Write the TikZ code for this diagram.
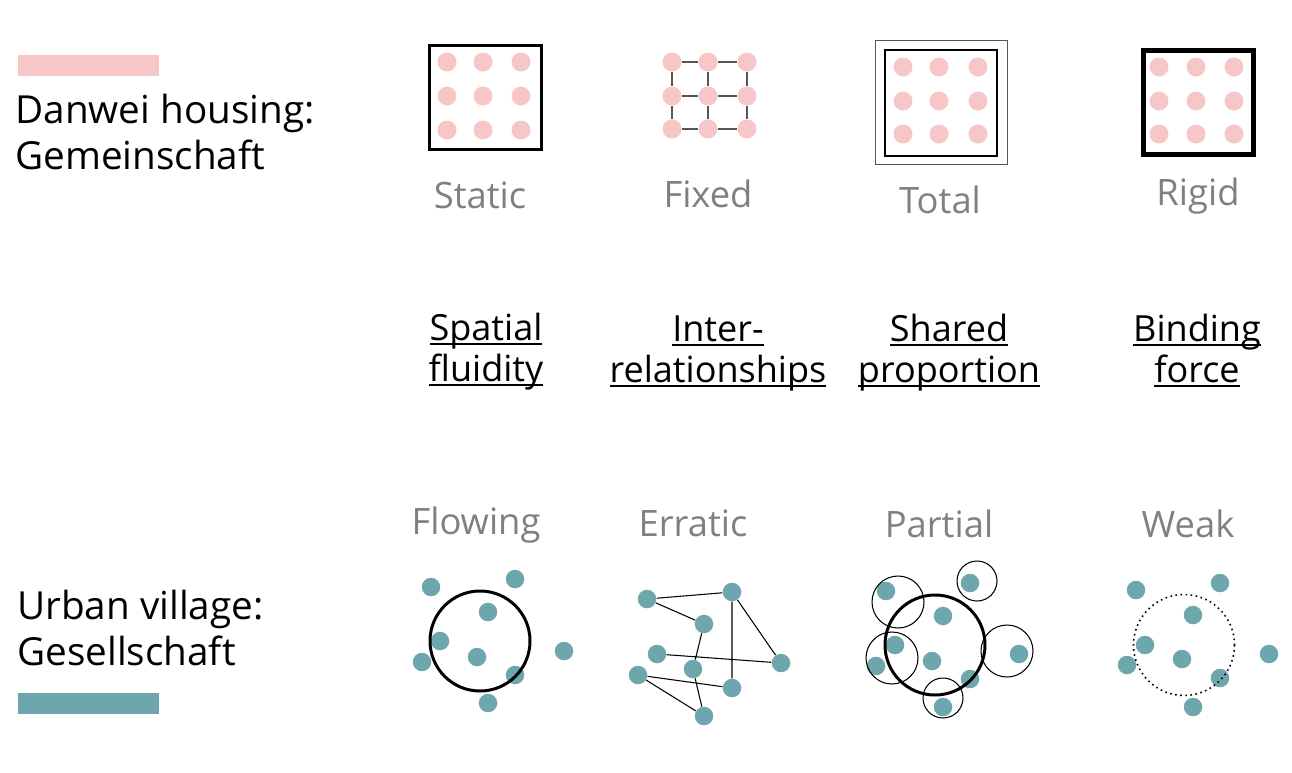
\documentclass[tikz,border=0pt]{standalone}
\usepackage{fontspec}
\setmainfont{Open Sans}
\definecolor{danweipink}{HTML}{F7C6C7}
\definecolor{villageteal}{HTML}{6DA7AD}
\definecolor{labelgray}{HTML}{808080}
\definecolor{gridgray}{HTML}{555555}
\newsavebox\ulinebox
\newcommand{\ulword}[1]{\sbox\ulinebox{#1}\rlap{\rule[-2.6pt]{\wd\ulinebox}{1.1pt}}\usebox\ulinebox}
\begin{document}
\begin{tikzpicture}[x=0.02cm,y=-0.02cm,
  pinkdot/.style={circle,fill=danweipink,inner sep=0pt,minimum size=0.38cm},
  tealdot/.style={circle,fill=villageteal,inner sep=0pt,minimum size=0.37cm},
  sidelabel/.style={anchor=base west,inner sep=0pt,align=left,font=\fontsize{22}{25.8}\selectfont},
  grayword/.style={anchor=base,inner sep=0pt,text=labelgray,font=\fontsize{20.7}{24}\selectfont},
  keyword/.style={anchor=base,inner sep=0pt,align=center,font=\fontsize{20.5}{23.2}\selectfont},
  thinline/.style={line width=0.6pt}]

  \useasboundingbox (0,0) rectangle (1292,772);

  %% legend bars and row titles (base = last line)
  \fill[danweipink] (18,55) rectangle (159,76);
  \fill[villageteal] (18,693) rectangle (159,714);
  \node[sidelabel] (danwei) at (15,169) {Danwei housing:\\Gemeinschaft};
  \node[sidelabel] (village) at (17,665) {Urban village:\\Gesellschaft};

  %% top row: Danwei
  \foreach \c/\x in {1/447,2/483,3/521}
    \foreach \r/\y in {1/62,2/96,3/130}
      \node[pinkdot] (st\c\r) at (\x,\y) {};
  \draw[line width=1.7pt] (429.5,45.5) rectangle (541.5,149.5);

  \foreach \c/\x in {1/672,2/708,3/747}
    \foreach \r/\y in {1/62,2/96,3/129}
      \node[pinkdot] (fx\c\r) at (\x,\y) {};
  \foreach \r in {1,2,3}
    \draw[thinline,gridgray] (fx1\r) -- (fx2\r) -- (fx3\r);
  \foreach \c in {1,2,3}
    \draw[thinline,gridgray] (fx\c1) -- (fx\c2) -- (fx\c3);

  \foreach \c/\x in {1/903,2/939,3/978}
    \foreach \r/\y in {1/67,2/101,3/134}
      \node[pinkdot] (tt\c\r) at (\x,\y) {};
  \draw[thinline,gridgray] (875.5,40.5) rectangle (1007.5,164.5);
  \draw[line width=1.3pt] (885,50) rectangle (997,156);

  \foreach \c/\x in {1/1159,2/1196,3/1234}
    \foreach \r/\y in {1/67,2/101,3/134}
      \node[pinkdot] (rg\c\r) at (\x,\y) {};
  \draw[line width=2.8pt] (1143.5,50.5) rectangle (1253.5,154.5);

  \node[grayword] (static) at (480,208) {Static};
  \node[grayword] (fixed) at (708,207) {Fixed};
  \node[grayword] (total) at (940,213) {Total};
  \node[grayword] (rigid) at (1198,205) {Rigid};

  %% middle row: the four aspects (base = second line)
  \node[keyword] (spatial) at (486,381) {\ulword{Spatial}\\\ulword{fluidity}};
  \node[keyword] (inter) at (718,382) {\ulword{Inter-}\\\ulword{relationships}};
  \node[keyword] (shared) at (949,382) {\ulword{Shared}\\\ulword{proportion}};
  \node[keyword] (binding) at (1197,382) {\ulword{Binding}\\\ulword{force}};

  %% bottom row: urban village
  \node[grayword] (flowing) at (476,534) {Flowing};
  \node[grayword] (erratic) at (693,536) {Erratic};
  \node[grayword] (partial) at (939,537) {Partial};
  \node[grayword] (weak) at (1188,537) {Weak};

  \foreach \n/\x/\y in {1/431/587,2/515/579,3/488/612,4/440/641,5/477/657,
                        6/422/662,7/564/651,8/515/675,9/488/703}
    \node[tealdot] (fl\n) at (\x,\y) {};
  \draw[line width=1.7pt] (480,641) circle [radius=50];

  \foreach \n/\x/\y in {a/647/599,b/732/592,c/704/624,d/657/654,e/693/669,
                        f/781/663,g/638/675,h/732/688,i/704/716}
    \node[tealdot] (er\n) at (\x,\y) {};
  \draw[thinline] (era) -- (erb) (era) -- (erc) (erb) -- (erh) (erb) -- (erf)
    (erc) -- (ere) (erd) -- (erf) (ere) -- (eri) (erg) -- (erh) (erg) -- (eri);

  \foreach \n/\x/\y in {1/886/591,2/970/583,3/943/616,4/895/645,5/876/666,
                        6/932/661,7/970/679,8/1019/654,9/943/707}
    \node[tealdot] (pa\n) at (\x,\y) {};
  \draw[line width=1.7pt] (935,645) circle [radius=50];
  \foreach \x/\y/\r in {898/602/26,977/581/20,892/658/26,1007/651/26,943/698/20}
    \draw[thinline] (\x,\y) circle [radius=\r];

  \foreach \n/\x/\y in {1/1136/590,2/1220/583,3/1193/615,4/1145/645,5/1127/665,
                        6/1182/659,7/1220/678,8/1269/654,9/1193/707}
    \node[tealdot] (wk\n) at (\x,\y) {};
  \draw[line width=0.9pt,dash pattern=on 0.9pt off 2pt] (1184,645) circle [radius=50.5];
\end{tikzpicture}
\end{document}
